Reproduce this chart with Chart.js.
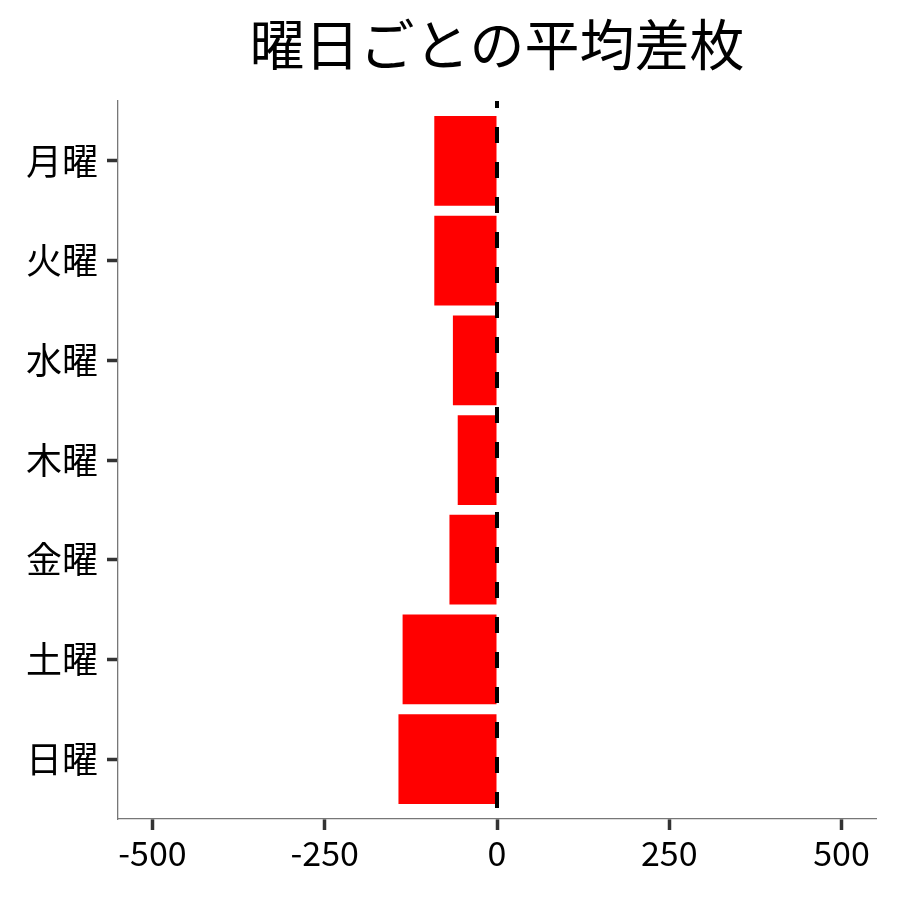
<!DOCTYPE html>
<html>
<head>
<meta charset="utf-8">
<script src="https://cdn.jsdelivr.net/npm/chart.js@4/dist/chart.umd.min.js"></script>
<style>
  html, body { margin: 0; padding: 0; background: #fff; }
  #wrap { width: 900px; height: 900px; }
</style>
</head>
<body>
<div id="wrap"><canvas id="c" width="900" height="900"></canvas></div>
<script>
const TITLE = "曜日ごとの平均差枚";
const categories = ["月曜", "火曜", "水曜", "木曜", "金曜", "土曜", "日曜"];
const values = [-91, -91, -64, -57, -69, -137, -143];
const xTicks = [-500, -250, 0, 250, 500];

const FONT = "'Noto Sans CJK JP', 'Noto Sans', sans-serif";

const titlePlugin = {
  id: 'customTitle',
  afterDraw(chart) {
    const ctx = chart.ctx;
    const area = chart.chartArea;
    ctx.save();
    ctx.font = "55px " + FONT;
    ctx.fillStyle = "#000";
    ctx.textAlign = "center";
    ctx.textBaseline = "middle";
    ctx.fillText(TITLE, (area.left + area.right) / 2, 44);
    ctx.restore();
  }
};

const zeroLine = {
  id: 'zeroLine',
  afterDatasetsDraw(chart) {
    const ctx = chart.ctx;
    const area = chart.chartArea;
    const x = chart.scales.x.getPixelForValue(0);
    ctx.save();
    ctx.strokeStyle = "#000";
    ctx.lineWidth = 4;
    ctx.setLineDash([16, 19]);
    ctx.lineDashOffset = 9;
    ctx.beginPath();
    ctx.moveTo(x, area.top);
    ctx.lineTo(x, area.bottom);
    ctx.stroke();
    ctx.restore();
  }
};

new Chart(document.getElementById('c'), {
  type: 'bar',
  data: {
    datasets: [{
      data: values.map((v, i) => ({ x: v, y: i })),
      backgroundColor: "#FF0000",
      borderWidth: 0,
      barPercentage: 0.9,
      categoryPercentage: 1.0
    }]
  },
  options: {
    indexAxis: 'y',
    responsive: false,
    animation: false,
    devicePixelRatio: 1,
    layout: { padding: { top: 101, left: 0, right: 24, bottom: 0 } },
    plugins: {
      legend: { display: false },
      tooltip: { enabled: false },
      title: { display: false }
    },
    scales: {
      x: {
        type: 'linear',
        min: -550,
        max: 550,
        afterBuildTicks(scale) {
          scale.ticks = xTicks.map(v => ({ value: v }));
        },
        afterFit(scale) { scale.height = 81; },
        grid: {
          display: true,
          drawOnChartArea: false,
          drawTicks: true,
          tickLength: 11,
          tickWidth: 3.5,
          tickColor: "#333"
        },
        border: { display: true, color: "#777", width: 1.3 },
        ticks: {
          color: "#000",
          font: { family: FONT, size: 34 },
          padding: 3,
          maxRotation: 0,
          autoSkip: false,
          callback: (v) => String(v)
        }
      },
      y: {
        type: 'linear',
        reverse: true,
        offset: false,
        min: -0.6,
        max: categories.length - 1 + 0.6,
        afterBuildTicks(scale) {
          scale.ticks = categories.map((c, i) => ({ value: i }));
        },
        afterFit(scale) { scale.width = 118; },
        grid: {
          display: true,
          offset: false,
          drawOnChartArea: false,
          drawTicks: true,
          tickLength: 11,
          tickWidth: 3.5,
          tickColor: "#333"
        },
        border: { display: true, color: "#777", width: 1.3 },
        ticks: {
          color: "#000",
          font: { family: FONT, size: 36 },
          padding: 9,
          autoSkip: false,
          callback: (v) => categories[v] !== undefined ? categories[v] : ""
        }
      }
    }
  },
  plugins: [titlePlugin, zeroLine]
});
</script>
</body>
</html>
